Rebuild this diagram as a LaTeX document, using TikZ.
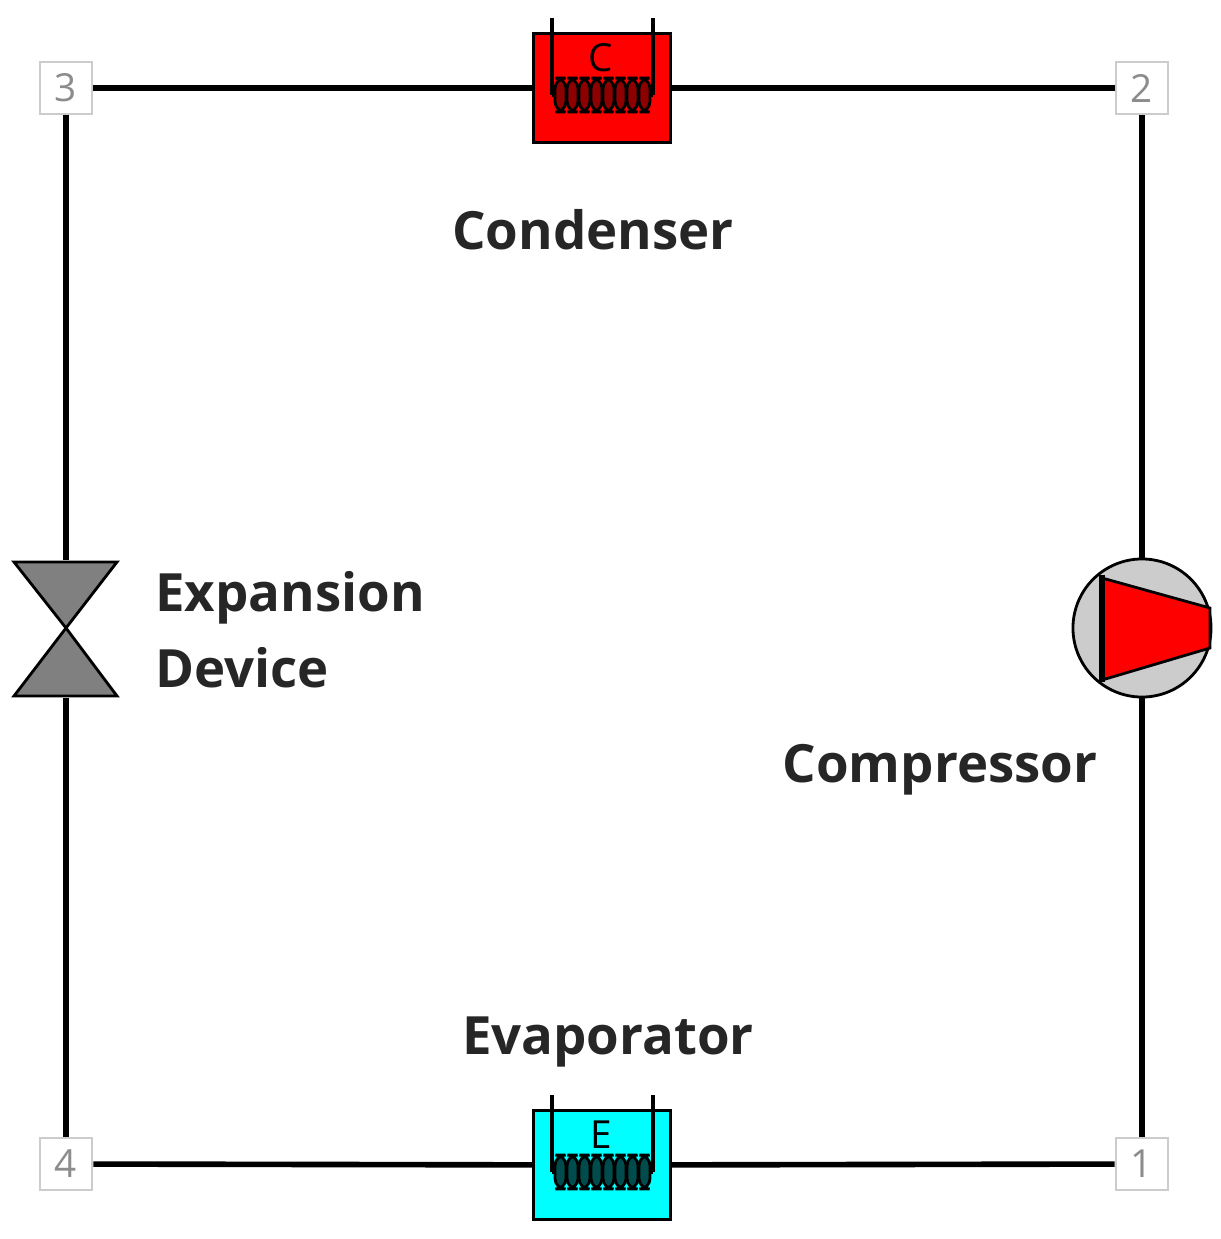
\documentclass[tikz,border=0pt]{standalone}
\usepackage{fontspec}
\setmainfont{Open Sans}
\usetikzlibrary{positioning}
\definecolor{evapcyan}{RGB}{0,255,255}
\definecolor{condred}{RGB}{255,0,0}
\begin{document}
\begin{tikzpicture}[
  x=0.01cm, y=-0.01cm,
  statept/.style={rectangle, draw=black!20, fill=white, line width=0.8pt, minimum size=0.52cm, inner sep=0pt, text=black!45, font=\fontsize{11}{13}\selectfont},
  hx/.style={rectangle, draw=black, line width=0.8pt, minimum width=1.37cm, minimum height=1.09cm, inner sep=0pt},
  pipe/.style={line width=1.6pt},
  lbl/.style={font=\bfseries\fontsize{15}{21.5}\selectfont, text=black!85}
]
  \useasboundingbox (0,0) rectangle (1220,1239);
  % state points
  \node[statept] (p3) at (66,88) {3};
  \node[statept] (p2) at (1142,88) {2};
  \node[statept] (p1) at (1142,1164) {1};
  \node[statept] (p4) at (66,1164) {4};
  % heat exchangers
  \node[hx, fill=condred] (cond) at (602,88) {};
  \node[hx, fill=evapcyan] (evap) at (602,1165) {};
  % expansion valve
  \coordinate (valve) at (66,628);
  \coordinate (valvetop) at (66,560);
  \coordinate (valvebot) at (66,698);
  % compressor
  \node[circle, draw=black, fill=black!20, minimum size=1.38cm, inner sep=0pt, line width=0.8pt] (comp) at (1142,628) {};
  % pipes
  \draw[pipe] (p3) -- (cond);
  \draw[pipe] (cond) -- (p2);
  \draw[pipe] (p2) -- (comp);
  \draw[pipe] (comp) -- (p1);
  \draw[pipe] (p1) -- (evap);
  \draw[pipe] (evap) -- (p4);
  \draw[pipe] (p4) -- (valvebot);
  \draw[pipe] (valvetop) -- (p3);
  % valve body
  \draw[fill=black!50, line width=0.8pt] (14,562) -- (117,562) -- (66,628) -- cycle;
  \draw[fill=black!50, line width=0.8pt] (14,696) -- (117,696) -- (66,628) -- cycle;
  % compressor impeller
  \draw[fill=condred, line width=0.8pt] (1102,578) -- (1210,608) -- (1210,648) -- (1102,680) -- cycle;
  \draw[line width=1.6pt] (1102,575) -- (1102,682);
  % coils
  \foreach \yc/\ltr/\col in {88/C/red!55!black, 1165/E/teal!60!black}{
    \draw[line width=1pt] (552,\yc-70) -- (552,\yc+7) (653,\yc-70) -- (653,\yc+7);
    \foreach \i in {0,...,7}
      \draw[fill=\col, line width=0.8pt, rounded corners=3pt] (555+\i*12,\yc-10) rectangle ++(11,34);
    \draw[line width=1pt] (552,\yc+7) -- (555,\yc+7) (650,\yc+7) -- (653,\yc+7);
    \node[font=\fontsize{11}{12}\selectfont] at (601,\yc-30) {\ltr};
  }
  % labels
  \node[lbl] (condlbl) at (593,230) {Condenser};
  \node[lbl, align=left, anchor=west] (valvelbl) at (143,630) {Expansion\\Device};
  \node[lbl] (complbl) at (940,770) {Compressor};
  \node[lbl] (evaplbl) at (608,1042) {Evaporator};
\end{tikzpicture}
\end{document}
